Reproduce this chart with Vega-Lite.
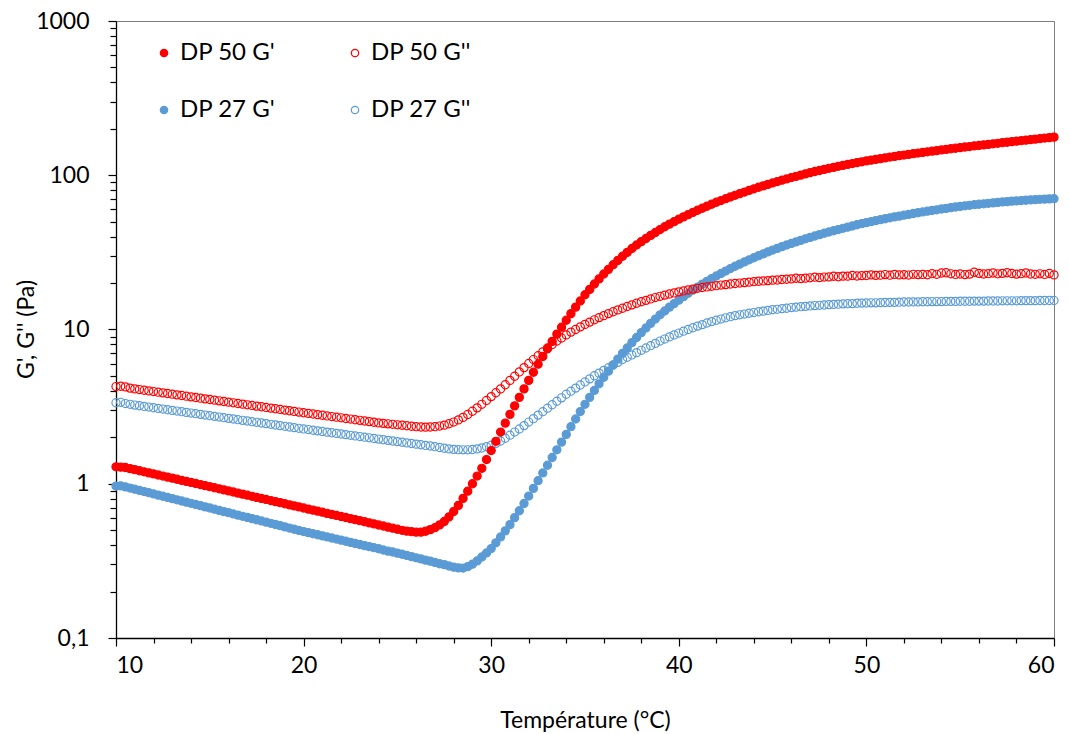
{
"$schema": "https://vega.github.io/schema/vega-lite/v6.json",
"width": 938, "height": 617,
"autosize": {"type": "none"},
"padding": {"left": 116, "top": 21, "right": 16, "bottom": 96},
"background": "white",
"config": {"view": {"stroke": "#7f7f7f", "strokeWidth": 1}, "font": "Lato"},
"data": {"values": [
{"T":10,"dp50_G1":1.288,"dp50_G2":4.266,"dp27_G1":0.966,"dp27_G2":3.350},
{"T":10.25,"dp50_G1":1.282,"dp50_G2":4.285,"dp27_G1":0.968,"dp27_G2":3.373},
{"T":10.5,"dp50_G1":1.274,"dp50_G2":4.246,"dp27_G1":0.955,"dp27_G2":3.311},
{"T":10.75,"dp50_G1":1.253,"dp50_G2":4.169,"dp27_G1":0.938,"dp27_G2":3.273},
{"T":11,"dp50_G1":1.234,"dp50_G2":4.121,"dp27_G1":0.922,"dp27_G2":3.236},
{"T":11.25,"dp50_G1":1.214,"dp50_G2":4.080,"dp27_G1":0.906,"dp27_G2":3.204},
{"T":11.5,"dp50_G1":1.195,"dp50_G2":4.040,"dp27_G1":0.890,"dp27_G2":3.172},
{"T":11.75,"dp50_G1":1.176,"dp50_G2":4.000,"dp27_G1":0.875,"dp27_G2":3.141},
{"T":12,"dp50_G1":1.158,"dp50_G2":3.961,"dp27_G1":0.859,"dp27_G2":3.110},
{"T":12.25,"dp50_G1":1.140,"dp50_G2":3.922,"dp27_G1":0.844,"dp27_G2":3.080},
{"T":12.5,"dp50_G1":1.122,"dp50_G2":3.883,"dp27_G1":0.830,"dp27_G2":3.049},
{"T":12.75,"dp50_G1":1.104,"dp50_G2":3.845,"dp27_G1":0.815,"dp27_G2":3.019},
{"T":13,"dp50_G1":1.087,"dp50_G2":3.807,"dp27_G1":0.801,"dp27_G2":2.989},
{"T":13.25,"dp50_G1":1.069,"dp50_G2":3.770,"dp27_G1":0.787,"dp27_G2":2.960},
{"T":13.5,"dp50_G1":1.052,"dp50_G2":3.733,"dp27_G1":0.773,"dp27_G2":2.931},
{"T":13.75,"dp50_G1":1.036,"dp50_G2":3.696,"dp27_G1":0.760,"dp27_G2":2.902},
{"T":14,"dp50_G1":1.020,"dp50_G2":3.659,"dp27_G1":0.747,"dp27_G2":2.873},
{"T":14.25,"dp50_G1":1.004,"dp50_G2":3.623,"dp27_G1":0.734,"dp27_G2":2.845},
{"T":14.5,"dp50_G1":0.988,"dp50_G2":3.588,"dp27_G1":0.721,"dp27_G2":2.817},
{"T":14.75,"dp50_G1":0.972,"dp50_G2":3.552,"dp27_G1":0.708,"dp27_G2":2.789},
{"T":15,"dp50_G1":0.957,"dp50_G2":3.517,"dp27_G1":0.696,"dp27_G2":2.762},
{"T":15.25,"dp50_G1":0.942,"dp50_G2":3.483,"dp27_G1":0.684,"dp27_G2":2.734},
{"T":15.5,"dp50_G1":0.927,"dp50_G2":3.448,"dp27_G1":0.672,"dp27_G2":2.707},
{"T":15.75,"dp50_G1":0.912,"dp50_G2":3.414,"dp27_G1":0.660,"dp27_G2":2.681},
{"T":16,"dp50_G1":0.898,"dp50_G2":3.381,"dp27_G1":0.649,"dp27_G2":2.654},
{"T":16.25,"dp50_G1":0.884,"dp50_G2":3.347,"dp27_G1":0.637,"dp27_G2":2.628},
{"T":16.5,"dp50_G1":0.870,"dp50_G2":3.314,"dp27_G1":0.626,"dp27_G2":2.602},
{"T":16.75,"dp50_G1":0.856,"dp50_G2":3.282,"dp27_G1":0.615,"dp27_G2":2.577},
{"T":17,"dp50_G1":0.843,"dp50_G2":3.250,"dp27_G1":0.605,"dp27_G2":2.552},
{"T":17.25,"dp50_G1":0.829,"dp50_G2":3.218,"dp27_G1":0.594,"dp27_G2":2.526},
{"T":17.5,"dp50_G1":0.816,"dp50_G2":3.186,"dp27_G1":0.584,"dp27_G2":2.502},
{"T":17.75,"dp50_G1":0.803,"dp50_G2":3.155,"dp27_G1":0.574,"dp27_G2":2.477},
{"T":18,"dp50_G1":0.791,"dp50_G2":3.124,"dp27_G1":0.564,"dp27_G2":2.453},
{"T":18.25,"dp50_G1":0.778,"dp50_G2":3.093,"dp27_G1":0.554,"dp27_G2":2.428},
{"T":18.5,"dp50_G1":0.766,"dp50_G2":3.062,"dp27_G1":0.544,"dp27_G2":2.404},
{"T":18.75,"dp50_G1":0.754,"dp50_G2":3.032,"dp27_G1":0.535,"dp27_G2":2.381},
{"T":19,"dp50_G1":0.742,"dp50_G2":3.003,"dp27_G1":0.525,"dp27_G2":2.357},
{"T":19.25,"dp50_G1":0.730,"dp50_G2":2.973,"dp27_G1":0.516,"dp27_G2":2.334},
{"T":19.5,"dp50_G1":0.719,"dp50_G2":2.944,"dp27_G1":0.507,"dp27_G2":2.311},
{"T":19.75,"dp50_G1":0.708,"dp50_G2":2.915,"dp27_G1":0.498,"dp27_G2":2.288},
{"T":20,"dp50_G1":0.696,"dp50_G2":2.886,"dp27_G1":0.490,"dp27_G2":2.266},
{"T":20.25,"dp50_G1":0.685,"dp50_G2":2.859,"dp27_G1":0.482,"dp27_G2":2.245},
{"T":20.5,"dp50_G1":0.675,"dp50_G2":2.832,"dp27_G1":0.474,"dp27_G2":2.223},
{"T":20.75,"dp50_G1":0.664,"dp50_G2":2.805,"dp27_G1":0.467,"dp27_G2":2.202},
{"T":21,"dp50_G1":0.654,"dp50_G2":2.779,"dp27_G1":0.459,"dp27_G2":2.182},
{"T":21.25,"dp50_G1":0.643,"dp50_G2":2.752,"dp27_G1":0.452,"dp27_G2":2.161},
{"T":21.5,"dp50_G1":0.633,"dp50_G2":2.727,"dp27_G1":0.445,"dp27_G2":2.141},
{"T":21.75,"dp50_G1":0.623,"dp50_G2":2.701,"dp27_G1":0.438,"dp27_G2":2.121},
{"T":22,"dp50_G1":0.613,"dp50_G2":2.676,"dp27_G1":0.431,"dp27_G2":2.101},
{"T":22.25,"dp50_G1":0.604,"dp50_G2":2.650,"dp27_G1":0.424,"dp27_G2":2.081},
{"T":22.5,"dp50_G1":0.594,"dp50_G2":2.626,"dp27_G1":0.417,"dp27_G2":2.061},
{"T":22.75,"dp50_G1":0.585,"dp50_G2":2.601,"dp27_G1":0.410,"dp27_G2":2.042},
{"T":23,"dp50_G1":0.576,"dp50_G2":2.577,"dp27_G1":0.404,"dp27_G2":2.023},
{"T":23.25,"dp50_G1":0.567,"dp50_G2":2.552,"dp27_G1":0.397,"dp27_G2":2.004},
{"T":23.5,"dp50_G1":0.558,"dp50_G2":2.528,"dp27_G1":0.391,"dp27_G2":1.985},
{"T":23.75,"dp50_G1":0.549,"dp50_G2":2.505,"dp27_G1":0.385,"dp27_G2":1.966},
{"T":24,"dp50_G1":0.540,"dp50_G2":2.481,"dp27_G1":0.379,"dp27_G2":1.948},
{"T":24.25,"dp50_G1":0.532,"dp50_G2":2.464,"dp27_G1":0.372,"dp27_G2":1.929},
{"T":24.5,"dp50_G1":0.523,"dp50_G2":2.446,"dp27_G1":0.366,"dp27_G2":1.911},
{"T":24.75,"dp50_G1":0.515,"dp50_G2":2.429,"dp27_G1":0.361,"dp27_G2":1.893},
{"T":25,"dp50_G1":0.507,"dp50_G2":2.411,"dp27_G1":0.355,"dp27_G2":1.876},
{"T":25.25,"dp50_G1":0.499,"dp50_G2":2.394,"dp27_G1":0.349,"dp27_G2":1.858},
{"T":25.5,"dp50_G1":0.493,"dp50_G2":2.377,"dp27_G1":0.343,"dp27_G2":1.840},
{"T":25.75,"dp50_G1":0.489,"dp50_G2":2.360,"dp27_G1":0.337,"dp27_G2":1.823},
{"T":26,"dp50_G1":0.486,"dp50_G2":2.344,"dp27_G1":0.331,"dp27_G2":1.806},
{"T":26.25,"dp50_G1":0.486,"dp50_G2":2.333,"dp27_G1":0.326,"dp27_G2":1.789},
{"T":26.5,"dp50_G1":0.492,"dp50_G2":2.328,"dp27_G1":0.320,"dp27_G2":1.772},
{"T":26.75,"dp50_G1":0.504,"dp50_G2":2.333,"dp27_G1":0.315,"dp27_G2":1.756},
{"T":27,"dp50_G1":0.519,"dp50_G2":2.344,"dp27_G1":0.309,"dp27_G2":1.739},
{"T":27.25,"dp50_G1":0.541,"dp50_G2":2.366,"dp27_G1":0.303,"dp27_G2":1.718},
{"T":27.5,"dp50_G1":0.569,"dp50_G2":2.399,"dp27_G1":0.299,"dp27_G2":1.698},
{"T":27.75,"dp50_G1":0.610,"dp50_G2":2.449,"dp27_G1":0.293,"dp27_G2":1.683},
{"T":28,"dp50_G1":0.661,"dp50_G2":2.512,"dp27_G1":0.288,"dp27_G2":1.671},
{"T":28.25,"dp50_G1":0.724,"dp50_G2":2.594,"dp27_G1":0.285,"dp27_G2":1.663},
{"T":28.5,"dp50_G1":0.804,"dp50_G2":2.692,"dp27_G1":0.284,"dp27_G2":1.660},
{"T":28.75,"dp50_G1":0.895,"dp50_G2":2.812,"dp27_G1":0.290,"dp27_G2":1.660},
{"T":29,"dp50_G1":1.000,"dp50_G2":2.951,"dp27_G1":0.301,"dp27_G2":1.667},
{"T":29.25,"dp50_G1":1.122,"dp50_G2":3.105,"dp27_G1":0.316,"dp27_G2":1.683},
{"T":29.5,"dp50_G1":1.259,"dp50_G2":3.273,"dp27_G1":0.335,"dp27_G2":1.706},
{"T":29.75,"dp50_G1":1.435,"dp50_G2":3.467,"dp27_G1":0.356,"dp27_G2":1.738},
{"T":30,"dp50_G1":1.641,"dp50_G2":3.673,"dp27_G1":0.380,"dp27_G2":1.778},
{"T":30.25,"dp50_G1":1.884,"dp50_G2":3.890,"dp27_G1":0.414,"dp27_G2":1.828},
{"T":30.5,"dp50_G1":2.163,"dp50_G2":4.121,"dp27_G1":0.452,"dp27_G2":1.892},
{"T":30.75,"dp50_G1":2.472,"dp50_G2":4.385,"dp27_G1":0.495,"dp27_G2":1.972},
{"T":31,"dp50_G1":2.818,"dp50_G2":4.677,"dp27_G1":0.543,"dp27_G2":2.065},
{"T":31.25,"dp50_G1":3.199,"dp50_G2":4.977,"dp27_G1":0.603,"dp27_G2":2.163},
{"T":31.5,"dp50_G1":3.631,"dp50_G2":5.309,"dp27_G1":0.668,"dp27_G2":2.265},
{"T":31.75,"dp50_G1":4.121,"dp50_G2":5.662,"dp27_G1":0.745,"dp27_G2":2.382},
{"T":32,"dp50_G1":4.677,"dp50_G2":6.026,"dp27_G1":0.832,"dp27_G2":2.512},
{"T":32.25,"dp50_G1":5.284,"dp50_G2":6.383,"dp27_G1":0.933,"dp27_G2":2.642},
{"T":32.5,"dp50_G1":5.957,"dp50_G2":6.761,"dp27_G1":1.047,"dp27_G2":2.786},
{"T":32.75,"dp50_G1":6.683,"dp50_G2":7.161,"dp27_G1":1.175,"dp27_G2":2.931},
{"T":33,"dp50_G1":7.499,"dp50_G2":7.586,"dp27_G1":1.318,"dp27_G2":3.090},
{"T":33.25,"dp50_G1":8.375,"dp50_G2":7.998,"dp27_G1":1.479,"dp27_G2":3.251},
{"T":33.5,"dp50_G1":9.333,"dp50_G2":8.414,"dp27_G1":1.660,"dp27_G2":3.428},
{"T":33.75,"dp50_G1":10.35,"dp50_G2":8.810,"dp27_G1":1.862,"dp27_G2":3.606},
{"T":34,"dp50_G1":11.48,"dp50_G2":9.226,"dp27_G1":2.089,"dp27_G2":3.802},
{"T":34.25,"dp50_G1":12.68,"dp50_G2":9.616,"dp27_G1":2.344,"dp27_G2":3.981},
{"T":34.5,"dp50_G1":13.96,"dp50_G2":10.00,"dp27_G1":2.630,"dp27_G2":4.169},
{"T":34.75,"dp50_G1":15.31,"dp50_G2":10.40,"dp27_G1":2.938,"dp27_G2":4.365},
{"T":35,"dp50_G1":16.79,"dp50_G2":10.79,"dp27_G1":3.273,"dp27_G2":4.571},
{"T":35.25,"dp50_G1":18.20,"dp50_G2":11.17,"dp27_G1":3.631,"dp27_G2":4.786},
{"T":35.5,"dp50_G1":19.72,"dp50_G2":11.56,"dp27_G1":4.027,"dp27_G2":5.012},
{"T":35.75,"dp50_G1":21.28,"dp50_G2":11.94,"dp27_G1":4.446,"dp27_G2":5.212},
{"T":36,"dp50_G1":22.91,"dp50_G2":12.30,"dp27_G1":4.898,"dp27_G2":5.433},
{"T":36.25,"dp50_G1":24.55,"dp50_G2":12.68,"dp27_G1":5.370,"dp27_G2":5.649},
{"T":36.5,"dp50_G1":26.30,"dp50_G2":13.03,"dp27_G1":5.888,"dp27_G2":5.888},
{"T":36.75,"dp50_G1":28.05,"dp50_G2":13.40,"dp27_G1":6.427,"dp27_G2":6.124},
{"T":37,"dp50_G1":29.85,"dp50_G2":13.74,"dp27_G1":6.998,"dp27_G2":6.383},
{"T":37.25,"dp50_G1":31.62,"dp50_G2":14.09,"dp27_G1":7.586,"dp27_G2":6.607},
{"T":37.5,"dp50_G1":33.50,"dp50_G2":14.45,"dp27_G1":8.222,"dp27_G2":6.839},
{"T":37.75,"dp50_G1":35.32,"dp50_G2":14.79,"dp27_G1":8.872,"dp27_G2":7.079},
{"T":38,"dp50_G1":37.15,"dp50_G2":15.14,"dp27_G1":9.550,"dp27_G2":7.328},
{"T":38.25,"dp50_G1":38.90,"dp50_G2":15.45,"dp27_G1":10.23,"dp27_G2":7.586},
{"T":38.5,"dp50_G1":40.74,"dp50_G2":15.78,"dp27_G1":10.96,"dp27_G2":7.852},
{"T":38.75,"dp50_G1":42.56,"dp50_G2":16.11,"dp27_G1":11.69,"dp27_G2":8.128},
{"T":39,"dp50_G1":44.46,"dp50_G2":16.41,"dp27_G1":12.45,"dp27_G2":8.414},
{"T":39.25,"dp50_G1":46.34,"dp50_G2":16.71,"dp27_G1":13.18,"dp27_G2":8.670},
{"T":39.5,"dp50_G1":48.19,"dp50_G2":16.98,"dp27_G1":13.96,"dp27_G2":8.954},
{"T":39.75,"dp50_G1":50.00,"dp50_G2":17.26,"dp27_G1":14.72,"dp27_G2":9.226},
{"T":40,"dp50_G1":51.88,"dp50_G2":17.54,"dp27_G1":15.49,"dp27_G2":9.484},
{"T":40.25,"dp50_G1":53.70,"dp50_G2":17.78,"dp27_G1":16.33,"dp27_G2":9.750},
{"T":40.5,"dp50_G1":55.59,"dp50_G2":18.03,"dp27_G1":17.18,"dp27_G2":10.00},
{"T":40.75,"dp50_G1":57.41,"dp50_G2":18.28,"dp27_G1":17.99,"dp27_G2":10.26},
{"T":41,"dp50_G1":59.29,"dp50_G2":18.49,"dp27_G1":18.84,"dp27_G2":10.52},
{"T":41.25,"dp50_G1":61.09,"dp50_G2":18.71,"dp27_G1":19.68,"dp27_G2":10.76},
{"T":41.5,"dp50_G1":62.95,"dp50_G2":18.88,"dp27_G1":20.51,"dp27_G2":11.02},
{"T":41.75,"dp50_G1":64.86,"dp50_G2":19.05,"dp27_G1":21.38,"dp27_G2":11.25},
{"T":42,"dp50_G1":66.83,"dp50_G2":19.23,"dp27_G1":22.23,"dp27_G2":11.48},
{"T":42.25,"dp50_G1":68.55,"dp50_G2":19.41,"dp27_G1":23.07,"dp27_G2":11.69},
{"T":42.5,"dp50_G1":70.47,"dp50_G2":19.54,"dp27_G1":23.93,"dp27_G2":11.91},
{"T":42.75,"dp50_G1":72.28,"dp50_G2":19.72,"dp27_G1":24.83,"dp27_G2":12.11},
{"T":43,"dp50_G1":74.13,"dp50_G2":19.86,"dp27_G1":25.70,"dp27_G2":12.30},
{"T":43.25,"dp50_G1":76.03,"dp50_G2":20.00,"dp27_G1":26.55,"dp27_G2":12.45},
{"T":43.5,"dp50_G1":77.80,"dp50_G2":20.14,"dp27_G1":27.42,"dp27_G2":12.59},
{"T":43.75,"dp50_G1":79.80,"dp50_G2":20.28,"dp27_G1":28.31,"dp27_G2":12.74},
{"T":44,"dp50_G1":81.66,"dp50_G2":20.42,"dp27_G1":29.17,"dp27_G2":12.88},
{"T":44.25,"dp50_G1":83.56,"dp50_G2":20.56,"dp27_G1":30.06,"dp27_G2":13.03},
{"T":44.5,"dp50_G1":85.31,"dp50_G2":20.65,"dp27_G1":30.90,"dp27_G2":13.15},
{"T":44.75,"dp50_G1":87.30,"dp50_G2":20.75,"dp27_G1":31.84,"dp27_G2":13.30},
{"T":45,"dp50_G1":89.13,"dp50_G2":20.89,"dp27_G1":32.73,"dp27_G2":13.43},
{"T":45.25,"dp50_G1":90.99,"dp50_G2":20.94,"dp27_G1":33.57,"dp27_G2":13.52},
{"T":45.5,"dp50_G1":92.90,"dp50_G2":21.09,"dp27_G1":34.44,"dp27_G2":13.65},
{"T":45.75,"dp50_G1":94.62,"dp50_G2":21.18,"dp27_G1":35.32,"dp27_G2":13.74},
{"T":46,"dp50_G1":96.61,"dp50_G2":21.28,"dp27_G1":36.14,"dp27_G2":13.87},
{"T":46.25,"dp50_G1":98.40,"dp50_G2":21.48,"dp27_G1":36.98,"dp27_G2":13.96},
{"T":46.5,"dp50_G1":100.2,"dp50_G2":21.38,"dp27_G1":37.84,"dp27_G2":14.06},
{"T":46.75,"dp50_G1":102.1,"dp50_G2":21.53,"dp27_G1":38.73,"dp27_G2":14.13},
{"T":47,"dp50_G1":104.0,"dp50_G2":21.63,"dp27_G1":39.54,"dp27_G2":14.22},
{"T":47.25,"dp50_G1":105.7,"dp50_G2":21.83,"dp27_G1":40.36,"dp27_G2":14.29},
{"T":47.5,"dp50_G1":107.4,"dp50_G2":21.68,"dp27_G1":41.21,"dp27_G2":14.35},
{"T":47.75,"dp50_G1":109.1,"dp50_G2":21.88,"dp27_G1":42.07,"dp27_G2":14.42},
{"T":48,"dp50_G1":110.9,"dp50_G2":21.93,"dp27_G1":42.85,"dp27_G2":14.49},
{"T":48.25,"dp50_G1":112.5,"dp50_G2":22.13,"dp27_G1":43.65,"dp27_G2":14.55},
{"T":48.5,"dp50_G1":114.3,"dp50_G2":21.98,"dp27_G1":44.46,"dp27_G2":14.59},
{"T":48.75,"dp50_G1":115.9,"dp50_G2":22.18,"dp27_G1":45.29,"dp27_G2":14.66},
{"T":49,"dp50_G1":117.5,"dp50_G2":22.18,"dp27_G1":46.13,"dp27_G2":14.69},
{"T":49.25,"dp50_G1":119.1,"dp50_G2":22.39,"dp27_G1":46.88,"dp27_G2":14.72},
{"T":49.5,"dp50_G1":120.8,"dp50_G2":22.23,"dp27_G1":47.75,"dp27_G2":14.79},
{"T":49.75,"dp50_G1":122.2,"dp50_G2":22.34,"dp27_G1":48.53,"dp27_G2":14.83},
{"T":50,"dp50_G1":123.9,"dp50_G2":22.39,"dp27_G1":49.32,"dp27_G2":14.86},
{"T":50.25,"dp50_G1":125.3,"dp50_G2":22.59,"dp27_G1":50.00,"dp27_G2":14.89},
{"T":50.5,"dp50_G1":126.8,"dp50_G2":22.44,"dp27_G1":50.82,"dp27_G2":14.89},
{"T":50.75,"dp50_G1":128.2,"dp50_G2":22.49,"dp27_G1":51.52,"dp27_G2":14.93},
{"T":51,"dp50_G1":129.7,"dp50_G2":22.70,"dp27_G1":52.24,"dp27_G2":14.96},
{"T":51.25,"dp50_G1":131.2,"dp50_G2":22.49,"dp27_G1":52.97,"dp27_G2":15.00},
{"T":51.5,"dp50_G1":132.4,"dp50_G2":22.75,"dp27_G1":53.70,"dp27_G2":15.00},
{"T":51.75,"dp50_G1":134.0,"dp50_G2":22.59,"dp27_G1":54.33,"dp27_G2":15.03},
{"T":52,"dp50_G1":135.2,"dp50_G2":22.65,"dp27_G1":55.08,"dp27_G2":15.07},
{"T":52.25,"dp50_G1":136.5,"dp50_G2":22.54,"dp27_G1":55.72,"dp27_G2":15.07},
{"T":52.5,"dp50_G1":138.0,"dp50_G2":22.80,"dp27_G1":56.49,"dp27_G2":15.10},
{"T":52.75,"dp50_G1":139.3,"dp50_G2":22.70,"dp27_G1":57.15,"dp27_G2":15.10},
{"T":53,"dp50_G1":140.6,"dp50_G2":22.75,"dp27_G1":57.81,"dp27_G2":15.14},
{"T":53.25,"dp50_G1":141.9,"dp50_G2":22.65,"dp27_G1":58.48,"dp27_G2":15.14},
{"T":53.5,"dp50_G1":143.2,"dp50_G2":23.01,"dp27_G1":59.16,"dp27_G2":15.17},
{"T":53.75,"dp50_G1":144.5,"dp50_G2":22.80,"dp27_G1":59.70,"dp27_G2":15.17},
{"T":54,"dp50_G1":145.9,"dp50_G2":23.23,"dp27_G1":60.39,"dp27_G2":15.17},
{"T":54.25,"dp50_G1":147.2,"dp50_G2":23.33,"dp27_G1":60.95,"dp27_G2":15.21},
{"T":54.5,"dp50_G1":148.6,"dp50_G2":22.96,"dp27_G1":61.66,"dp27_G2":15.21},
{"T":54.75,"dp50_G1":149.6,"dp50_G2":22.75,"dp27_G1":62.23,"dp27_G2":15.21},
{"T":55,"dp50_G1":151.0,"dp50_G2":22.91,"dp27_G1":62.81,"dp27_G2":15.24},
{"T":55.25,"dp50_G1":152.4,"dp50_G2":22.70,"dp27_G1":63.39,"dp27_G2":15.24},
{"T":55.5,"dp50_G1":153.5,"dp50_G2":22.86,"dp27_G1":63.83,"dp27_G2":15.24},
{"T":55.75,"dp50_G1":154.9,"dp50_G2":23.50,"dp27_G1":64.42,"dp27_G2":15.28},
{"T":56,"dp50_G1":156.0,"dp50_G2":23.12,"dp27_G1":64.86,"dp27_G2":15.28},
{"T":56.25,"dp50_G1":157.4,"dp50_G2":22.91,"dp27_G1":65.31,"dp27_G2":15.28},
{"T":56.5,"dp50_G1":158.5,"dp50_G2":23.01,"dp27_G1":65.77,"dp27_G2":15.31},
{"T":56.75,"dp50_G1":159.9,"dp50_G2":23.23,"dp27_G1":66.22,"dp27_G2":15.31},
{"T":57,"dp50_G1":161.1,"dp50_G2":22.96,"dp27_G1":66.68,"dp27_G2":15.31},
{"T":57.25,"dp50_G1":162.6,"dp50_G2":23.12,"dp27_G1":67.14,"dp27_G2":15.35},
{"T":57.5,"dp50_G1":163.7,"dp50_G2":23.33,"dp27_G1":67.45,"dp27_G2":15.35},
{"T":57.75,"dp50_G1":165.2,"dp50_G2":23.07,"dp27_G1":67.92,"dp27_G2":15.35},
{"T":58,"dp50_G1":166.3,"dp50_G2":22.86,"dp27_G1":68.23,"dp27_G2":15.35},
{"T":58.25,"dp50_G1":167.5,"dp50_G2":23.01,"dp27_G1":68.55,"dp27_G2":15.38},
{"T":58.5,"dp50_G1":169.0,"dp50_G2":23.23,"dp27_G1":68.87,"dp27_G2":15.38},
{"T":58.75,"dp50_G1":170.2,"dp50_G2":22.91,"dp27_G1":69.18,"dp27_G2":15.38},
{"T":59,"dp50_G1":171.4,"dp50_G2":22.80,"dp27_G1":69.50,"dp27_G2":15.38},
{"T":59.25,"dp50_G1":172.6,"dp50_G2":22.96,"dp27_G1":69.82,"dp27_G2":15.42},
{"T":59.5,"dp50_G1":174.2,"dp50_G2":22.75,"dp27_G1":69.98,"dp27_G2":15.42},
{"T":59.75,"dp50_G1":175.4,"dp50_G2":23.07,"dp27_G1":70.31,"dp27_G2":15.42},
{"T":60,"dp50_G1":176.6,"dp50_G2":22.59,"dp27_G1":70.47,"dp27_G2":15.42}
]},
"transform": [{"fold": ["dp50_G1","dp50_G2","dp27_G1","dp27_G2"], "as": ["series","G"]}],
"encoding": {
  "x": {"field": "T", "type": "quantitative",
    "scale": {"domain": [10, 60], "nice": false, "zero": false},
    "axis": {"title": "Température (°C)", "values": [10,12,14,16,18,20,22,24,26,28,30,32,34,36,38,40,42,44,46,48,50,52,54,56,58,60],
      "labelExpr": "datum.value % 10 == 0 ? datum.label : ''",
      "tickSize": {"condition": {"test": "datum.value % 10 == 0", "value": 8}, "value": 5},
      "tickColor": "#000", "domainColor": "#000", "domainWidth": 1.3, "tickWidth": 1.2,
      "labelFontSize": 23, "labelColor": "#000", "labelPadding": 8, "labelFont": "Lato",
      "titleFontSize": 23, "titleFontWeight": "normal", "titleColor": "#000", "titleFont": "Lato",
      "titleBaseline": "alphabetic", "titleY": 89, "titleX": 469, "grid": false}},
  "y": {"field": "G", "type": "quantitative",
    "scale": {"type": "log", "domain": [0.1, 1000], "nice": false},
    "axis": {"title": "G', G'' (Pa)", "values": [0.1,0.2,0.3,0.4,0.5,0.6,0.7,0.8,0.9,1,2,3,4,5,6,7,8,9,10,20,30,40,50,60,70,80,90,100,200,300,400,500,600,700,800,900,1000],
      "labelExpr": "datum.value == 0.1 ? '0,1' : ((datum.value == 1 || datum.value == 10 || datum.value == 100 || datum.value == 1000) ? format(datum.value, 'd') : '')",
      "tickSize": {"condition": {"test": "datum.value == 0.1 || datum.value == 1 || datum.value == 10 || datum.value == 100 || datum.value == 1000", "value": 8}, "value": 6},
      "tickColor": "#000", "domainColor": "#000", "domainWidth": 1.3, "tickWidth": 1.2,
      "labelFontSize": 23, "labelColor": "#000", "labelPadding": 19, "labelFont": "Lato",
      "titleFontSize": 23, "titleFontWeight": "normal", "titleColor": "#000", "titleFont": "Lato",
      "titleBaseline": "alphabetic", "titleX": -83, "titleY": 308, "grid": false}},
  "fill": {"field": "series", "type": "nominal",
    "scale": {"domain": ["dp50_G1","dp27_G1","dp50_G2","dp27_G2"], "range": ["#FF0000","#5B9BD5","transparent","transparent"]},
    "legend": {"orient": "none", "legendX": 36, "legendY": 20, "columns": 2, "title": null, "padding": 0,
      "labelFontSize": 24, "labelFont": "Lato", "labelColor": "#000", "symbolSize": 55, "symbolStrokeWidth": 1.2, "symbolType": "circle",
      "labelOffset": 4, "rowPadding": 33, "columnPadding": 67,
      "labelExpr": "datum.label == 'dp50_G1' ? \"DP 50 G'\" : (datum.label == 'dp50_G2' ? \"DP 50 G''\" : (datum.label == 'dp27_G1' ? \"DP 27 G'\" : \"DP 27 G''\"))"}},
  "stroke": {"field": "series", "type": "nominal",
    "scale": {"domain": ["dp50_G1","dp27_G1","dp50_G2","dp27_G2"], "range": ["#FF0000","#5B9BD5","#FF0000","#5B9BD5"]},
    "legend": {"orient": "none", "legendX": 36, "legendY": 20, "columns": 2, "title": null, "padding": 0,
      "labelFontSize": 24, "labelFont": "Lato", "labelColor": "#000", "symbolSize": 55, "symbolStrokeWidth": 1.2, "symbolType": "circle",
      "labelOffset": 4, "rowPadding": 33, "columnPadding": 67,
      "labelExpr": "datum.label == 'dp50_G1' ? \"DP 50 G'\" : (datum.label == 'dp50_G2' ? \"DP 50 G''\" : (datum.label == 'dp27_G1' ? \"DP 27 G'\" : \"DP 27 G''\"))"}}
},
"layer": [
  {"transform": [{"filter": "datum.series == 'dp27_G2'"}], "mark": {"type": "point", "shape": "circle", "size": 66, "strokeWidth": 1.2, "opacity": 1}},
  {"transform": [{"filter": "datum.series == 'dp27_G1'"}], "mark": {"type": "point", "shape": "circle", "size": 66, "strokeWidth": 1.2, "opacity": 1}},
  {"transform": [{"filter": "datum.series == 'dp50_G2'"}], "mark": {"type": "point", "shape": "circle", "size": 66, "strokeWidth": 1.2, "opacity": 1}},
  {"transform": [{"filter": "datum.series == 'dp50_G1'"}], "mark": {"type": "point", "shape": "circle", "size": 66, "strokeWidth": 1.2, "opacity": 1}}
]
}
